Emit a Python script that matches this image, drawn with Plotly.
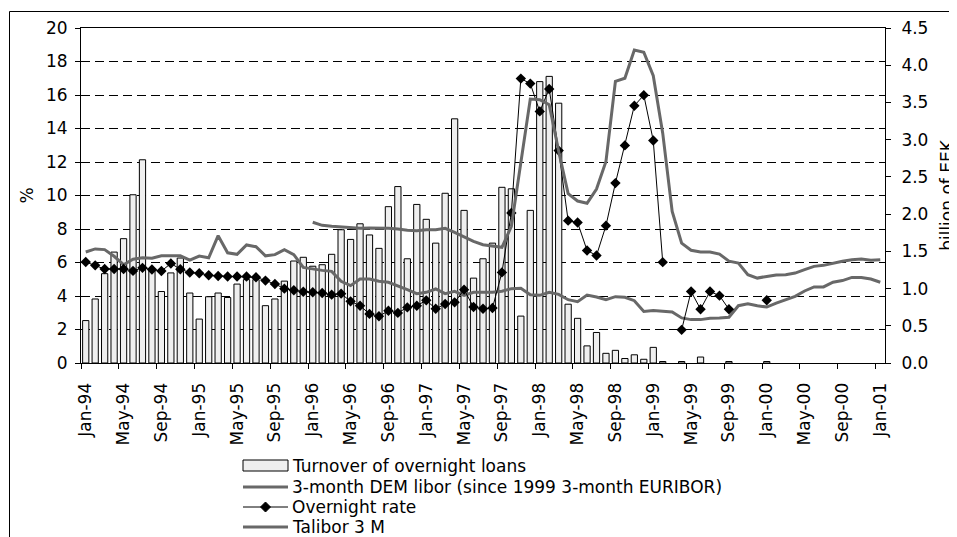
import plotly.graph_objects as go

MONTHS = ["Jan", "Feb", "Mar", "Apr", "May", "Jun", "Jul", "Aug", "Sep", "Oct", "Nov", "Dec"]
YEARS = ["94", "95", "96", "97", "98", "99", "00", "01"]
categories = [f"{m}-{y}" for y in YEARS for m in MONTHS][:85]

# Turnover of overnight loans, billion of EEK (right axis)
turnover = [
    0.57, 0.86, 1.20, 1.49, 1.67, 2.26, 2.73, 1.26, 0.96, 1.21, 1.41, 0.94,
    0.59, 0.89, 0.94, 0.88, 1.06, 1.12, 1.12, 0.77, 0.86, 1.10, 1.37, 1.42,
    1.30, 1.32, 1.46, 1.79, 1.66, 1.87, 1.72, 1.54, 2.10, 2.37, 1.40, 2.13,
    1.93, 1.61, 2.28, 3.28, 2.05, 1.14, 1.40, 1.61, 2.36, 2.34, 0.63, 2.05,
    3.78, 3.85, 3.49, 0.79, 0.60, 0.23, 0.41, 0.13, 0.17, 0.06, 0.11, 0.05,
    0.21, 0.02, None, 0.02, None, 0.08, None, None, 0.02, None, None, None,
    0.02, None, None, None, None, None, None, None, None, None, None, None,
    None,
]

# Overnight rate, %
overnight = [
    6.03, 5.83, 5.61, 5.61, 5.61, 5.50, 5.68, 5.58, 5.49, 5.94, 5.60, 5.40,
    5.36, 5.24, 5.19, 5.16, 5.16, 5.16, 5.12, 4.92, 4.72, 4.44, 4.34, 4.25,
    4.22, 4.18, 4.08, 4.14, 3.68, 3.42, 2.93, 2.79, 3.12, 2.99, 3.32, 3.42,
    3.74, 3.24, 3.52, 3.62, 4.38, 3.34, 3.24, 3.28, 5.41, 8.96, 16.98, 16.68,
    15.02, 16.36, 12.68, 8.50, 8.39, 6.72, 6.42, 8.20, 10.74, 12.99, 15.36, 15.99,
    13.28, 6.02, None, 1.98, 4.27, 3.21, 4.27, 4.02, 3.21, None, None, None,
    3.75, None, None, None, None, None, None, None, None, None, None, None,
    None,
]

# 3-month DEM libor (since 1999 3-month EURIBOR), %
dem_libor = [
    6.63, 6.81, 6.77, 6.37, 5.87, 6.20, 6.28, 6.25, 6.40, 6.40, 6.40, 6.14,
    6.38, 6.28, 7.60, 6.58, 6.49, 7.05, 6.94, 6.40, 6.47, 6.77, 6.47, 5.71,
    5.61, 5.53, 5.47, 4.88, 4.62, 5.01, 5.01, 4.88, 4.82, 4.62, 4.38, 4.14,
    4.22, 4.42, 4.14, 4.28, 4.04, 4.22, 4.22, 4.22, 4.28, 4.44, 4.46, 4.08,
    4.04, 4.22, 4.10, 3.78, 3.66, 4.06, 3.94, 3.78, 3.96, 3.92, 3.72, 3.08,
    3.14, 3.08, 3.04, 2.69, 2.59, 2.59, 2.67, 2.69, 2.73, 3.42, 3.54, 3.42,
    3.34, 3.58, 3.78, 3.98, 4.30, 4.54, 4.54, 4.82, 4.92, 5.11, 5.11, 5.01,
    4.82,
]

# Talibor 3 M, %
talibor = [None] * 24 + [
    8.40, 8.22, 8.16, 8.12, 8.04, 8.04, 8.06, 8.06, 8.04, 8.00, 7.92, 7.90,
    7.96, 7.96, 8.04, 7.80, 7.52, 7.26, 7.06, 6.97, 6.91, 8.16, 11.94, 15.76,
    15.72, 15.42, 12.64, 10.11, 9.67, 9.54, 10.39, 12.03, 16.81, 17.00, 18.68, 18.55,
    17.15, 13.72, 9.05, 7.16, 6.73, 6.63, 6.63, 6.50, 6.08, 5.97, 5.27, 5.07,
    5.17, 5.25, 5.27, 5.37, 5.57, 5.77, 5.83, 5.97, 6.07, 6.17, 6.21, 6.13,
    6.17,
]

legend_labels = [
    "Turnover of overnight loans",
    "3-month DEM libor (since 1999 3-month EURIBOR)",
    "Overnight rate",
    "Talibor 3 M",
]

FONT = "DejaVu Sans"
GREY = "#686868"
BAR_FILL = "#efefef"

# the page body has an 8px margin; the figure sits at (8, 8) in the page
OFF = 8
W, H = 957 - OFF, 537 - OFF
L, R, T, B = 81 - OFF, 72, 28 - OFF, 174
PW, PH = W - L - R, H - T - B


def px(x):
    """page x pixel -> paper fraction"""
    return (x - OFF - L) / PW


def py(y):
    """page y pixel -> paper fraction"""
    return (H - B - (y - OFF)) / PH


fig = go.Figure()

fig.add_trace(go.Bar(
    x=categories, y=turnover, name=legend_labels[0], yaxis="y",
    marker=dict(color=BAR_FILL, line=dict(color="black", width=1)),
))
fig.add_trace(go.Scatter(
    x=categories, y=dem_libor, name=legend_labels[1], yaxis="y2", mode="lines",
    line=dict(color=GREY, width=3),
))
fig.add_trace(go.Scatter(
    x=categories, y=overnight, name=legend_labels[2], yaxis="y2", mode="lines+markers",
    line=dict(color="black", width=1),
    marker=dict(symbol="diamond", size=8, color="black"),
))
fig.add_trace(go.Scatter(
    x=categories, y=talibor, name=legend_labels[3], yaxis="y2", mode="lines",
    line=dict(color=GREY, width=3),
))

# chart border + manual legend
shapes = []
shapes.append(dict(type="rect", xref="paper", yref="paper",
                   x0=px(9.5), x1=px(970), y0=py(11.5), y1=py(560),
                   line=dict(color="black", width=1), fillcolor="rgba(0,0,0,0)", layer="below"))
shapes.append(dict(type="rect", xref="paper", yref="paper",
                   x0=px(243), x1=px(288), y0=py(471), y1=py(460),
                   line=dict(color="black", width=1), fillcolor=BAR_FILL))
rows = [466, 487, 507, 527]
shapes.append(dict(type="line", xref="paper", yref="paper",
                   x0=px(243), x1=px(288), y0=py(rows[1]), y1=py(rows[1]),
                   line=dict(color=GREY, width=3)))
shapes.append(dict(type="line", xref="paper", yref="paper",
                   x0=px(243), x1=px(288), y0=py(rows[2]), y1=py(rows[2]),
                   line=dict(color="black", width=1)))
cx, cy, d = 265.5, rows[2], 5
shapes.append(dict(type="path", xref="paper", yref="paper",
                   path=f"M {px(cx)},{py(cy - d)} L {px(cx + d)},{py(cy)} L {px(cx)},{py(cy + d)} L {px(cx - d)},{py(cy)} Z",
                   line=dict(color="black", width=1), fillcolor="black"))
shapes.append(dict(type="line", xref="paper", yref="paper",
                   x0=px(243), x1=px(288), y0=py(rows[3]), y1=py(rows[3]),
                   line=dict(color=GREY, width=3)))

annotations = []
for lbl, r in zip(legend_labels, rows):
    annotations.append(dict(xref="paper", yref="paper", x=px(290), y=py(r),
                            xanchor="left", yanchor="middle", text=lbl, showarrow=False,
                            font=dict(family=FONT, size=17, color="black")))

fig.update_layout(
    width=W, height=H,
    margin=dict(l=L, r=R, t=T, b=B, pad=0, autoexpand=False),
    paper_bgcolor="white", plot_bgcolor="white",
    font=dict(family=FONT, size=17, color="black"),
    showlegend=False,
    bargap=0.34,
    shapes=shapes,
    annotations=annotations,
    xaxis=dict(
        type="category", range=[-0.5, 84.5], automargin=False,
        tickmode="linear", tick0=0, dtick=4, tickson="boundaries",
        ticks="outside", ticklen=5, tickcolor="black", tickangle=-90,
        showline=True, linecolor="black", linewidth=1, mirror=True,
        showgrid=False, tickfont=dict(size=17), ticklabelstandoff=12,
    ),
    yaxis=dict(
        side="right", range=[0, 4.5], tickmode="linear", tick0=0, dtick=0.5,
        tickformat=".1f", ticks="outside", ticklen=5, tickcolor="black",
        showline=True, linecolor="black", linewidth=1, automargin=False,
        showgrid=False, zeroline=False, tickfont=dict(size=17), ticklabelstandoff=7,
        title=dict(text="billion of EEK", standoff=16, font=dict(size=17)),
    ),
    yaxis2=dict(
        side="left", overlaying="y", range=[0, 20], tickmode="linear", tick0=0, dtick=2,
        ticks="outside", ticklen=5, tickcolor="black", automargin=False,
        showline=True, linecolor="black", linewidth=1,
        showgrid=True, gridcolor="black", gridwidth=1, griddash="9px,5px",
        zeroline=False, tickfont=dict(size=17), ticklabelstandoff=4,
        title=dict(text="%", standoff=8, font=dict(size=17)),
    ),
)

fig.write_html("out.html")
